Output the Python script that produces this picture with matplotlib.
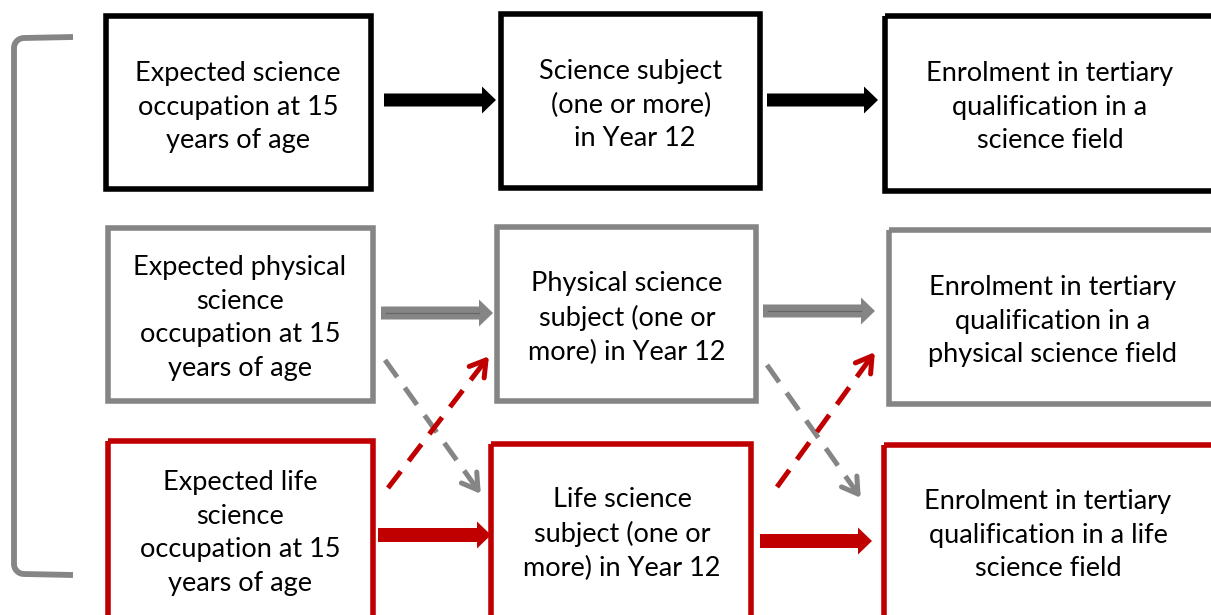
import numpy as np
import matplotlib
matplotlib.use("Agg")
import matplotlib.pyplot as plt
from matplotlib.patches import Rectangle, FancyArrow

# box texts, row by row (general science, physical science, life science)
labels = [
    ["Expected science\noccupation at 15\nyears of age",
     "Science subject\n(one or more)\n in Year 12",
     "Enrolment in tertiary\nqualification in a\nscience field"],
    ["Expected physical\nscience\noccupation at 15\nyears of age",
     "Physical science\nsubject (one or\nmore) in Year 12",
     "Enrolment in tertiary\nqualification in a\nphysical science field"],
    ["Expected life\nscience\noccupation at 15\nyears of age",
     "Life science\nsubject (one or\nmore) in Year 12",
     "Enrolment in tertiary\nqualification in a life\nscience field"],
]
row_colors = ["#000000", "#858585", "#c00000"]

# box outlines in pixel coords: (x0, y0, x1, y1)
boxes = [
    [(106, 16, 371, 189), (501, 14, 760, 188), (885, 16, 1225, 191)],
    [(108, 228, 373, 401), (497, 227, 756, 401), (889, 230, 1225, 404)],
    [(108, 441, 373, 630), (491, 444, 751, 630), (884, 445, 1225, 630)],
]
text_pos = [
    [(238, 107), (631, 105), (1050, 107)],
    [(240, 318), (627, 318), (1053, 321)],
    [(240, 533), (622, 534), (1048, 535)],
]

# straight arrows: (x_start, x_end, y)
straight = [
    [(384, 496, 100), (767, 878, 100)],
    [(381, 493, 313), (763, 875, 311)],
    [(378, 491, 535), (760, 872, 541)],
]
# dashed diagonal arrows: (x0, y0, x1, y1, color)
dashed = [
    (385, 360, 478, 490, "#858585"),
    (767, 365, 858, 494, "#858585"),
    (388, 488, 486, 360, "#c00000"),
    (777, 487, 872, 356, "#c00000"),
]

fig = plt.figure(figsize=(12.11, 6.15), dpi=100)
ax = fig.add_axes([0, 0, 1, 1])
ax.set_xlim(0, 1211)
ax.set_ylim(615, 0)
ax.set_axis_off()

for r in range(3):
    c = row_colors[r]
    for k in range(3):
        x0, y0, x1, y1 = boxes[r][k]
        ax.add_patch(Rectangle((x0, y0), x1 - x0, y1 - y0, fill=False,
                               edgecolor=c, linewidth=4.0, joinstyle="miter"))
        tx, ty = text_pos[r][k]
        ax.text(tx, ty, labels[r][k], ha="center", va="center",
                fontsize=19.5, family="Lato", linespacing=1.42, color="black")
    for xs, xe, y in straight[r]:
        w = 13 if r != 2 else 14
        ar = FancyArrow(xs, y, xe - xs, 0, width=w, head_width=27,
                        head_length=14, length_includes_head=True,
                        color=c, linewidth=0)
        ax.add_patch(ar)
        if r == 1:
            ax.plot([xs + 5, xe - 14], [y, y], color="#666666", lw=0.9)

for x0, y0, x1, y1, c in dashed:
    ax.plot([x0, x1], [y0, y1], color=c, lw=3.6, dashes=(4.2, 2.6),
            solid_capstyle="butt")
    ang = np.arctan2(y1 - y0, x1 - x0)
    hl = 18
    for da in (0.55, -0.55):
        ax.plot([x1, x1 - hl * np.cos(ang + da)], [y1, y1 - hl * np.sin(ang + da)],
                color=c, lw=3.6, solid_capstyle="round")

# bracket on the left, with rounded corners
t = np.linspace(0, np.pi / 2, 12)
top_x = np.r_[73, 24, 14 + 10 - 10 * np.sin(t)]
top_y = np.r_[37, 38, 48 - 10 * np.cos(t)]
bot_x = np.r_[14 + 10 - 10 * np.cos(t), 24, 73]
bot_y = np.r_[564 + 10 * np.sin(t), 574, 575]
ax.plot(np.r_[top_x, bot_x], np.r_[top_y, bot_y], color="#858585", lw=4.2,
        solid_capstyle="butt", solid_joinstyle="round")

fig.savefig("out.png", dpi=100)
